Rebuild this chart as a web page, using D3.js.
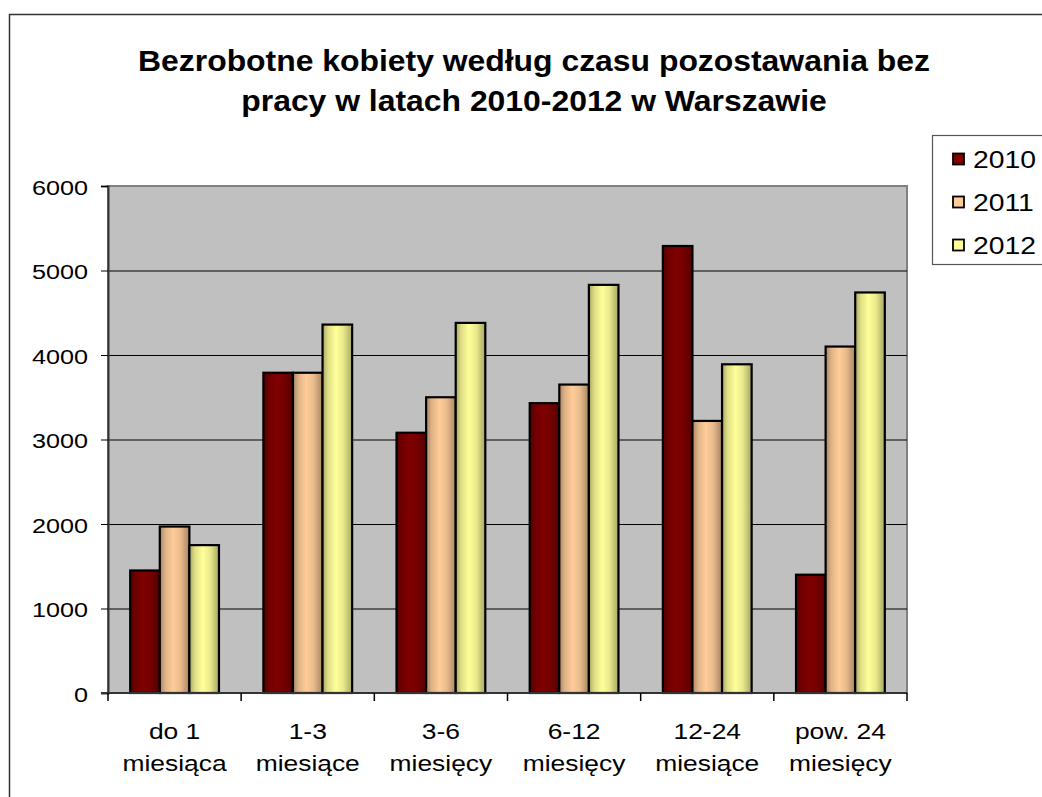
<!DOCTYPE html>
<html>
<head>
<meta charset="utf-8">
<script src="https://cdn.jsdelivr.net/npm/d3@7"></script>
<style>
  body { margin: 0; background: #fff; }
  text { font-family: Arial, "Liberation Sans", sans-serif; fill: #000; }
</style>
</head>
<body>
<svg id="chart" width="1042" height="797"></svg>
<script>
// categories (two-line labels) and values per year
const categories = ['do 1|miesiąca', '1-3|miesiące', '3-6|miesięcy', '6-12|miesięcy', '12-24|miesiące', 'pow. 24|miesięcy'];
const years = ['2010', '2011', '2012'];
const values2010 = [1450, 3790, 3080, 3430, 5290, 1400];
const values2011 = [1970, 3790, 3500, 3650, 3220, 4100];
const values2012 = [1750, 4360, 4380, 4830, 3890, 4740];
const yTicks = [0, 1000, 2000, 3000, 4000, 5000, 6000];
const colors = ['#800000', '#FFCC99', '#FFFF99'];
const titleLines = ['Bezrobotne kobiety według czasu pozostawania bez', 'pracy w latach 2010-2012 w Warszawie'];

const series = [values2010, values2011, values2012];
const sx = 1.2; // text in the picture is stretched horizontally

let svg = d3.select('#chart');

//outer chart border
svg.append('rect')
  .attr('x', 9.5).attr('y', 14.5)
  .attr('width', 1100).attr('height', 900)
  .attr('fill', 'none').attr('stroke', '#333').attr('stroke-width', 1.5);

//title
svg.append('g').selectAll('text')
  .data(titleLines)
  .join('text')
  .attr('transform', (d, i) => 'translate(534,' + (71 + i * 40) + ') scale(1.1,1)')
  .attr('text-anchor', 'middle')
  .style('font-weight', 'bold')
  .style('font-size', '29px')
  .text(d => d);

let x0 = d3.scaleBand().domain(categories).range([108, 907]).padding(0);
let x1 = d3.scaleBand().domain(years).range([0, x0.bandwidth()]).paddingInner(0).paddingOuter(0.75);
let y = d3.scaleLinear().domain([0, 6000]).range([693, 186]);

//gradients for the cylinder-like shading of the bars
let defs = svg.append('defs');
colors.forEach((c, i) => {
  let g = defs.append('linearGradient').attr('id', 'grad' + i)
    .attr('x1', '0%').attr('x2', '100%').attr('y1', '0%').attr('y2', '0%');
  let base = d3.color(c);
  g.append('stop').attr('offset', '0%').attr('stop-color', base.darker(1.2));
  g.append('stop').attr('offset', '18%').attr('stop-color', base.darker(0.4));
  g.append('stop').attr('offset', '45%').attr('stop-color', base);
  g.append('stop').attr('offset', '70%').attr('stop-color', base.darker(0.25));
  g.append('stop').attr('offset', '100%').attr('stop-color', base.darker(1.2));
});

//plot area
svg.append('rect')
  .attr('x', 108).attr('y', y(6000))
  .attr('width', 907 - 108).attr('height', y(0) - y(6000))
  .attr('fill', '#C0C0C0').attr('stroke', '#808080').attr('stroke-width', 2);

//gridlines
svg.append('g').selectAll('line')
  .data(yTicks.filter(d => d > 0 && d < 6000))
  .join('line')
  .attr('x1', 108).attr('x2', 907)
  .attr('y1', d => y(d) + 0.5).attr('y2', d => y(d) + 0.5)
  .attr('stroke', '#000').attr('stroke-width', 1);

//bars
let groups = svg.append('g').selectAll('g')
  .data(categories)
  .join('g')
  .attr('transform', d => 'translate(' + x0(d) + ',0)');

groups.selectAll('rect')
  .data((d, ci) => years.map((yr, si) => ({ yr: yr, si: si, v: series[si][ci] })))
  .join('rect')
  .attr('x', d => x1(d.yr))
  .attr('y', d => y(d.v))
  .attr('width', x1.bandwidth())
  .attr('height', d => y(0) - y(d.v))
  .attr('fill', d => 'url(#grad' + d.si + ')')
  .attr('stroke', '#000').attr('stroke-width', 2.2);

//y axis
let yAxis = d3.axisLeft(y).tickValues(yTicks).tickFormat(d3.format('d')).tickSize(7);
let ya = svg.append('g').attr('transform', 'translate(108,0)').call(yAxis);
ya.select('.domain').attr('stroke', '#333').attr('stroke-width', 2);
ya.selectAll('.tick line').attr('stroke', '#000');
ya.selectAll('.tick text')
  .attr('x', null).attr('dy', null)
  .attr('transform', 'translate(-20,8) scale(' + sx + ',1)')
  .style('font-size', '21px').style('font-family', 'Arial, "Liberation Sans", sans-serif');

//x axis line and category ticks
let xa = svg.append('g').attr('transform', 'translate(0,' + y(0) + ')');
xa.append('line').attr('x1', 101).attr('x2', 907).attr('y1', 0).attr('y2', 0)
  .attr('stroke', '#333').attr('stroke-width', 2);
xa.selectAll('line.tk')
  .data(categories.map(c => x0(c)).concat([x0.range()[1]]))
  .join('line').attr('class', 'tk')
  .attr('x1', d => d).attr('x2', d => d)
  .attr('y1', 0).attr('y2', 8)
  .attr('stroke', '#000').attr('stroke-width', 1.5);

//category labels
let labels = svg.append('g').selectAll('g')
  .data(categories)
  .join('g')
  .attr('transform', d => 'translate(' + (x0(d) + x0.bandwidth() / 2) + ',0)');
labels.selectAll('text')
  .data(d => d.split('|'))
  .join('text')
  .attr('transform', (d, i) => 'translate(0,' + (739 + i * 32) + ') scale(' + sx + ',1)')
  .attr('text-anchor', 'middle')
  .style('font-size', '22px')
  .text(d => d);

//legend
let lg = svg.append('g');
lg.append('rect')
  .attr('x', 932.5).attr('y', 135.5).attr('width', 200).attr('height', 129)
  .attr('fill', '#fff').attr('stroke', '#555').attr('stroke-width', 1.2);
let legendY = d3.scalePoint().domain(years).range([159, 245]);
let items = lg.selectAll('g')
  .data(years)
  .join('g')
  .attr('transform', d => 'translate(0,' + legendY(d) + ')');
items.append('rect')
  .attr('x', 953).attr('y', -5.5).attr('width', 11).attr('height', 11)
  .attr('fill', (d, i) => colors[i]).attr('stroke', '#000').attr('stroke-width', 1.8);
items.append('text')
  .attr('transform', 'translate(973,8.5) scale(1.18,1)')
  .style('font-size', '24px')
  .text(d => d);
</script>
</body>
</html>
